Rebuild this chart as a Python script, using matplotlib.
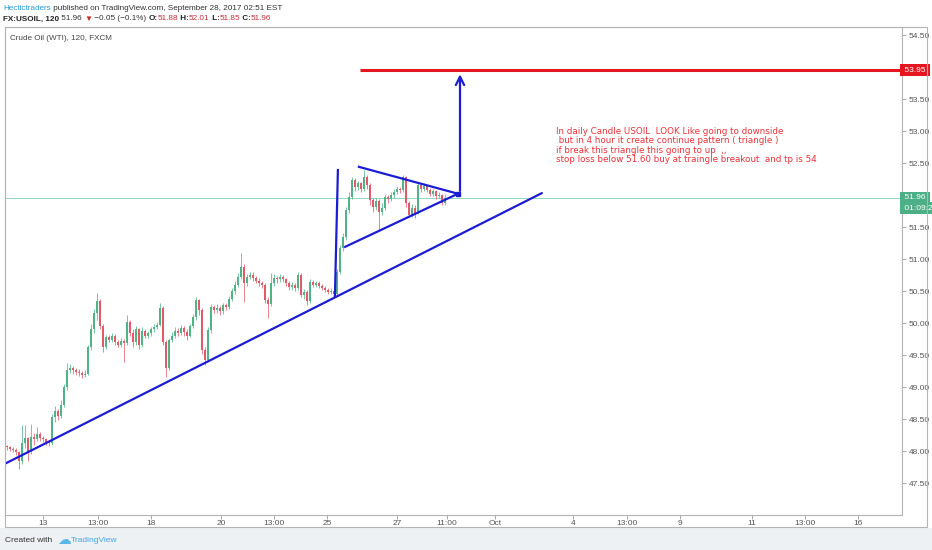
import matplotlib
matplotlib.use("Agg")
import matplotlib.pyplot as plt
import matplotlib.transforms as mtransforms
from matplotlib.patches import Rectangle

plt.rcParams['font.family'] = ['Liberation Sans', 'DejaVu Sans']

# --- datos de las velas (2h, FX:USOIL) ---
opens = [48.08, 48.06, 48.03, 48.02, 47.98, 47.85, 48.12, 48.20, 47.98, 48.22,
         48.18, 48.26, 48.20, 48.18, 48.14, 48.12, 48.53, 48.62, 48.55, 48.72,
         49.00, 49.27, 49.30, 49.26, 49.24, 49.22, 49.19, 49.20, 49.62, 49.90,
         50.15, 50.35, 49.95, 49.62, 49.78, 49.74, 49.80, 49.70, 49.66, 49.72,
         49.68, 50.02, 49.85, 49.70, 49.90, 49.65, 49.88, 49.80, 49.84, 49.90,
         49.94, 49.97, 50.23, 49.70, 49.30, 49.73, 49.80, 49.88, 49.85, 49.92,
         49.86, 49.80, 49.95, 50.09, 50.36, 50.20, 49.58, 49.42, 49.89, 50.25,
         50.20, 50.24, 50.18, 50.28, 50.25, 50.38, 50.50, 50.60, 50.72, 50.88,
         50.62, 50.72, 50.75, 50.70, 50.66, 50.62, 50.60, 50.36, 50.30, 50.62,
         50.70, 50.68, 50.72, 50.68, 50.62, 50.56, 50.60, 50.55, 50.75, 50.44,
         50.48, 50.35, 50.64, 50.60, 50.62, 50.58, 50.55, 50.52, 50.48, 50.50,
         50.46, 50.80, 51.17, 51.34, 51.77, 51.97, 52.23, 52.12, 52.18, 52.10,
         52.28, 52.15, 51.92, 51.81, 51.90, 51.73, 51.80, 51.97, 51.93, 52.00,
         52.05, 52.10, 52.08, 52.28, 51.87, 51.69, 51.80, 51.72, 52.16, 52.10,
         52.14, 52.08, 52.02, 52.06, 51.98, 52.00, 51.88]
highs = [48.10, 48.08, 48.06, 48.04, 48.00, 48.40, 48.40, 48.22, 48.42, 48.28,
         48.38, 48.30, 48.24, 48.20, 48.17, 48.58, 48.70, 48.66, 48.80, 49.05,
         49.38, 49.36, 49.33, 49.30, 49.28, 49.25, 49.26, 49.66, 49.98, 50.22,
         50.47, 50.38, 49.98, 49.82, 49.81, 49.84, 49.83, 49.74, 49.76, 49.75,
         50.12, 50.05, 49.90, 49.96, 49.92, 49.93, 49.90, 49.88, 49.94, 49.98,
         50.02, 50.31, 50.26, 49.74, 49.76, 49.86, 49.93, 49.92, 49.97, 49.95,
         49.90, 49.99, 50.14, 50.41, 50.38, 50.24, 49.62, 49.93, 50.30, 50.28,
         50.29, 50.27, 50.32, 50.31, 50.42, 50.55, 50.66, 50.78, 51.09, 50.92,
         50.77, 50.80, 50.79, 50.74, 50.70, 50.66, 50.63, 50.40, 50.78, 50.76,
         50.74, 50.77, 50.75, 50.71, 50.65, 50.64, 50.63, 50.79, 50.78, 50.53,
         50.51, 50.68, 50.67, 50.66, 50.65, 50.61, 50.58, 50.55, 50.54, 50.52,
         50.84, 51.22, 51.40, 51.82, 52.05, 52.28, 52.26, 52.22, 52.21, 52.39,
         52.31, 52.18, 51.96, 51.95, 51.93, 51.88, 52.02, 52.00, 52.05, 52.09,
         52.14, 52.13, 52.31, 52.30, 51.90, 51.86, 51.84, 52.20, 52.19, 52.18,
         52.16, 52.11, 52.09, 52.08, 52.04, 52.02, 52.01]
lows = [48.02, 48.00, 47.98, 47.94, 47.72, 47.80, 48.05, 47.85, 47.95, 48.10,
        48.15, 48.16, 48.14, 48.10, 48.08, 48.10, 48.45, 48.48, 48.52, 48.68,
        48.96, 49.22, 49.20, 49.19, 49.17, 49.14, 49.15, 49.18, 49.58, 49.85,
        50.05, 49.90, 49.55, 49.60, 49.70, 49.70, 49.66, 49.62, 49.62, 49.39,
        49.65, 49.80, 49.62, 49.66, 49.60, 49.62, 49.76, 49.77, 49.80, 49.86,
        49.90, 49.95, 49.66, 49.16, 49.26, 49.70, 49.76, 49.80, 49.82, 49.80,
        49.74, 49.78, 49.92, 50.05, 50.12, 49.52, 49.34, 49.40, 49.85, 50.15,
        50.16, 50.13, 50.14, 50.20, 50.22, 50.34, 50.46, 50.56, 50.68, 50.33,
        50.58, 50.68, 50.66, 50.62, 50.58, 50.55, 50.32, 50.08, 50.27, 50.58,
        50.63, 50.64, 50.64, 50.58, 50.52, 50.52, 50.50, 50.52, 50.40, 50.38,
        50.28, 50.32, 50.56, 50.57, 50.54, 50.51, 50.48, 50.45, 50.45, 50.42,
        50.44, 50.76, 51.12, 51.30, 51.72, 51.93, 52.07, 52.08, 52.05, 52.06,
        52.10, 51.85, 51.74, 51.77, 51.45, 51.68, 51.76, 51.88, 51.90, 51.96,
        52.01, 52.03, 52.05, 51.82, 51.66, 51.66, 51.64, 51.70, 52.05, 52.06,
        52.04, 51.98, 51.99, 51.94, 51.95, 51.84, 51.85]
closes = [48.06, 48.03, 48.02, 47.98, 47.85, 48.12, 48.20, 47.98, 48.22, 48.18,
          48.26, 48.20, 48.18, 48.14, 48.12, 48.53, 48.62, 48.55, 48.72, 49.00,
          49.27, 49.30, 49.26, 49.24, 49.22, 49.19, 49.20, 49.62, 49.90, 50.15,
          50.35, 49.95, 49.62, 49.78, 49.74, 49.80, 49.70, 49.66, 49.72, 49.68,
          50.02, 49.85, 49.70, 49.90, 49.65, 49.88, 49.80, 49.84, 49.90, 49.94,
          49.97, 50.23, 49.70, 49.30, 49.73, 49.80, 49.88, 49.85, 49.92, 49.86,
          49.80, 49.95, 50.09, 50.36, 50.20, 49.58, 49.42, 49.89, 50.25, 50.20,
          50.24, 50.18, 50.28, 50.25, 50.38, 50.50, 50.60, 50.72, 50.88, 50.62,
          50.72, 50.75, 50.70, 50.66, 50.62, 50.60, 50.36, 50.30, 50.62, 50.70,
          50.68, 50.72, 50.68, 50.62, 50.56, 50.60, 50.55, 50.75, 50.44, 50.48,
          50.35, 50.64, 50.60, 50.62, 50.58, 50.55, 50.52, 50.48, 50.50, 50.46,
          50.80, 51.17, 51.34, 51.77, 51.97, 52.23, 52.12, 52.18, 52.10, 52.28,
          52.15, 51.92, 51.81, 51.90, 51.73, 51.80, 51.97, 51.93, 52.00, 52.05,
          52.10, 52.08, 52.28, 51.87, 51.69, 51.80, 51.72, 52.16, 52.10, 52.14,
          52.08, 52.02, 52.06, 51.98, 52.00, 51.88, 51.96]

# eje de tiempo (posicion en barras) y etiquetas
time_ticks = [12, 30.3, 48, 71.3, 89, 106.7, 130, 146.7, 162.7, 188.7,
              206.7, 224.3, 248.3, 266, 283.7]
time_labels = ["13", "13:00", "18", "20", "13:00", "25", "27", "11:00", "Oct",
               "4", "13:00", "9", "11", "13:00", "16"]
price_ticks = [47.5, 48.0, 48.5, 49.0, 49.5, 50.0, 50.5, 51.0, 51.5,
               52.0, 52.5, 53.0, 53.5, 54.0, 54.5]

# dibujos del autor (barra, precio)
trend_line = ([-0.3, 178.3], [47.81, 52.03])
flag_pole = ([109.3, 110.3], [50.41, 52.39])
tri_low = ([112.7, 150.3], [51.19, 52.02])
tri_high = ([117.3, 150.3], [52.44, 52.02])
target_arrow = ([151, 151], [52.02, 53.93])
target_price = 53.95
target_start = 117.7
last_price = 51.96

note = ("In daily Candle USOIL  LOOK Like going to downside\n"
        " but in 4 hour it create continue pattern ( triangle )\n"
        "if break this triangle this going to up  ,,\n"
        "stop loss below 51.60 buy at traingle breakout  and tp is 54")

UP = '#4fb386'
DOWN = '#e05a68'
BLUE = '#1c1cd4'
RED = '#e5161f'
GRAY = '#555555'

fig = plt.figure(figsize=(9.32, 5.5), dpi=100)
fig.patch.set_facecolor('white')

# franja inferior y marco general
fig.add_artist(Rectangle((0, 0), 1, 22 / 550, transform=fig.transFigure,
                         facecolor='#eef1f4', edgecolor='none', zorder=0))
fig.add_artist(Rectangle((5 / 932, 23 / 550), 922 / 932, 500 / 550,
                         transform=fig.transFigure, facecolor='none',
                         edgecolor='#b4b4b4', lw=0.8, zorder=5))

ax = fig.add_axes([5 / 932, 35 / 550, 897 / 932, 488 / 550])
ax.set_xlim(-0.667, 298.33)
ax.set_ylim(47.0, 54.625)
for s in ax.spines.values():
    s.set_color('#b4b4b4')
    s.set_linewidth(0.8)

# velas
for i in range(len(closes)):
    o, h, l, c = opens[i], highs[i], lows[i], closes[i]
    col = UP if c >= o else DOWN
    ax.vlines(i, l, h, color=col, lw=0.7, alpha=0.75, zorder=2)
    ax.bar(i, max(abs(c - o), 0.01), bottom=min(o, c),
           width=0.66, color=col, edgecolor='none', zorder=3)

# linea del ultimo precio
ax.axhline(last_price, color='#8fd8c3', lw=0.7, zorder=1)

# dibujos
ax.plot(*trend_line, color=BLUE, lw=1.6, zorder=4, solid_capstyle='round')
ax.plot(*flag_pole, color=BLUE, lw=1.6, zorder=4)
ax.plot(*tri_low, color=BLUE, lw=1.6, zorder=4)
ax.plot(*tri_high, color=BLUE, lw=1.6, zorder=4)
ax.plot(tri_low[0][1], tri_low[1][1], marker='s', ms=2.5, color=BLUE, zorder=4)
ax.hlines(target_price, target_start, 298.33, color=RED, lw=2.2, zorder=4)
ax.annotate('', xy=(target_arrow[0][1], target_arrow[1][1]),
            xytext=(target_arrow[0][0], target_arrow[1][0]),
            arrowprops=dict(arrowstyle='->,head_length=0.6,head_width=0.3',
                            color=BLUE, lw=1.6), zorder=4)

ax.text(183, 53.07, note, color='#e8333b', fontsize=6.3, va='top', ha='left',
        family='DejaVu Sans', linespacing=1.08)

ax.text(0.0056, 0.977, "Crude Oil (WTI), 120, FXCM", transform=ax.transAxes,
        fontsize=5.9, color='#444444', va='center', ha='left')

# ejes
ax.yaxis.tick_right()
ax.set_yticks(price_ticks)
ax.set_yticklabels(["" if p in (52.0, 54.0) else f"{p:.2f}" for p in price_ticks])
ax.tick_params(axis='y', length=3, width=0.6, colors='#999999', labelcolor=GRAY,
               labelsize=6.0, pad=2)
ax.set_xticks(time_ticks)
ax.set_xticklabels(time_labels)
ax.tick_params(axis='x', length=3, width=0.6, colors='#999999', labelcolor=GRAY,
               labelsize=6.0, pad=0.5)

# etiquetas de precio a la derecha
ytr = mtransforms.blended_transform_factory(ax.transAxes, ax.transData)
ax.text(1.0, target_price, " 53.95 ", transform=ytr, color='white', fontsize=6.0,
        va='center', ha='left', zorder=10, clip_on=False,
        bbox=dict(boxstyle='square,pad=0.3', fc=RED, ec='none'))
ax.text(1.0, last_price, " 51.96 ", transform=ytr, color='white', fontsize=6.0,
        va='center', ha='left', zorder=10, clip_on=False,
        bbox=dict(boxstyle='square,pad=0.3', fc='#4caf86', ec='none'))
ax.text(1.0, last_price - 0.17, " 01:09:2", transform=ytr, color='white',
        fontsize=6.0, va='center', ha='left', zorder=10, clip_on=False,
        bbox=dict(boxstyle='square,pad=0.3', fc='#4caf86', ec='none'))

# cabecera
t1 = fig.text(3 / 932, 1 - 8 / 550, "Hectictraders", color='#2b9bd6',
              fontsize=5.9, va='center', ha='left')
ax.annotate(" published on TradingView.com, September 28, 2017 02:51 EST",
            xy=(1, 0), xycoords=t1, va='bottom', ha='left', fontsize=5.9,
            color='#333333', annotation_clip=False)

parts = [("FX:USOIL, 120", '#222222', 'bold'), (" 51.96 ", '#333333', 'normal'),
         ("▼", '#c62828', 'normal'), (" \u22120.05 (\u22120.1%) ", '#333333', 'normal'),
         ("O:", '#222222', 'bold'), ("51.88", '#c2303a', 'normal'),
         (" H:", '#222222', 'bold'), ("52.01", '#c2303a', 'normal'),
         (" L:", '#222222', 'bold'), ("51.85", '#c2303a', 'normal'),
         (" C:", '#222222', 'bold'), ("51.96", '#c2303a', 'normal')]
prev = fig.text(3 / 932, 1 - 19 / 550, parts[0][0], color=parts[0][1],
                fontweight=parts[0][2], fontsize=5.9, va='center', ha='left')
for txt, col, wt in parts[1:]:
    prev = ax.annotate(txt, xy=(1, 0), xycoords=prev, va='bottom', ha='left',
                       fontsize=5.9, color=col, fontweight=wt,
                       annotation_clip=False,
                       family=['Liberation Sans', 'DejaVu Sans'])

# pie
fig.text(5 / 932, 10 / 550, "Created with", color='#333333', fontsize=6.0,
         va='center', ha='left')
fig.text(57 / 932, 10 / 550, "\u2601", color='#59b7e8', fontsize=10,
         va='center', ha='left', family='DejaVu Sans')
fig.text(71 / 932, 10 / 550, "TradingView", color='#3ea6e0', fontsize=6.0,
         va='center', ha='left')

fig.savefig("out.png", dpi=100)
